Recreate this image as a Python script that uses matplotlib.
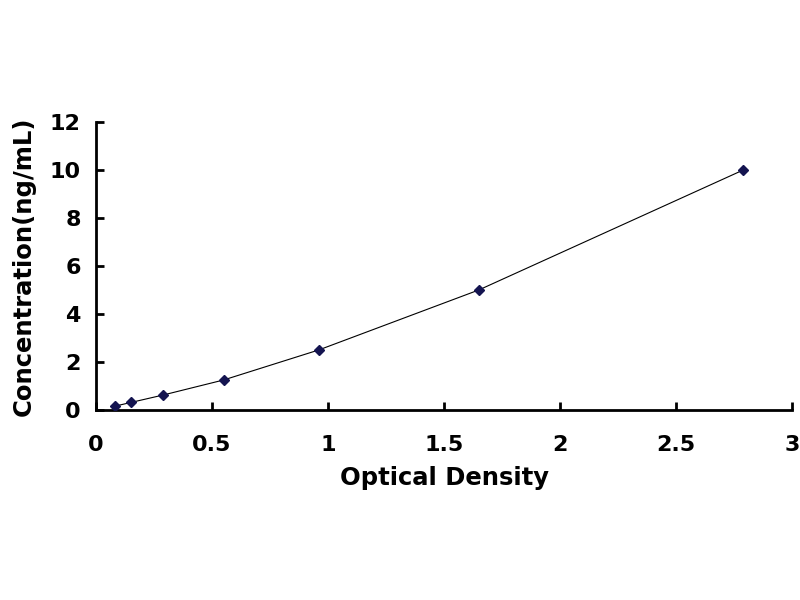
import matplotlib
matplotlib.use("Agg")
import matplotlib.pyplot as plt

od = [0.08, 0.15, 0.29, 0.55, 0.96, 1.65, 2.79]
conc = [0.156, 0.312, 0.625, 1.25, 2.5, 5.0, 10.0]
xticks = [0, 0.5, 1, 1.5, 2, 2.5, 3]
xticklabels = ["0", "0.5", "1", "1.5", "2", "2.5", "3"]
yticks = [0, 2, 4, 6, 8, 10, 12]

plt.rcParams['font.family'] = ['DejaVu Sans']
fig = plt.figure(figsize=(8, 6), dpi=100)
ax = fig.add_axes([0.12, 0.3167, 0.87, 0.48])
ax.plot(od, conc, color='black', lw=0.8, zorder=2)
ax.plot(od, conc, linestyle='none', marker='D', markersize=5.5,
        color='#141450', zorder=3)
ax.set_xlim(0, 3)
ax.set_ylim(0, 12)
ax.set_xticks(xticks)
ax.set_xticklabels(xticklabels)
ax.set_yticks(yticks)
for s in ['top', 'right']:
    ax.spines[s].set_visible(False)
for s in ['left', 'bottom']:
    ax.spines[s].set_linewidth(2)
ax.tick_params(direction='in', length=5.5, width=2, labelsize=16)
ax.tick_params(axis='x', pad=18)
ax.tick_params(axis='y', pad=11)
for lab in ax.get_xticklabels() + ax.get_yticklabels():
    lab.set_fontweight('bold')
ax.set_xlabel('Optical Density', fontsize=17.5, fontweight='bold', labelpad=8)
ax.set_ylabel('Concentration(ng/mL)', fontsize=17.5, fontweight='bold', labelpad=10)
fig.savefig('out.png', dpi=100)
